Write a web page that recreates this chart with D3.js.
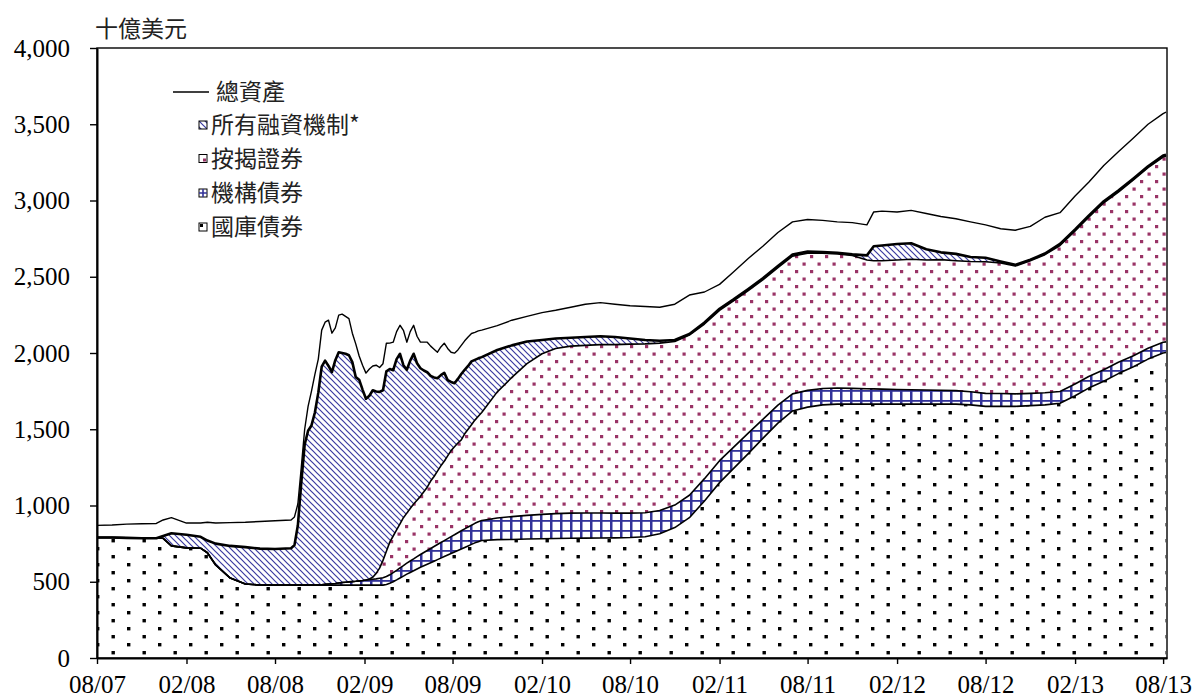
<!DOCTYPE html>
<html><head><meta charset="utf-8">
<script src="https://cdn.jsdelivr.net/npm/d3@7"></script>
<style>body{margin:0;background:#fff} svg{display:block}</style>
</head><body>
<svg id="c" width="1195" height="697"></svg>
<script>
// ---------------- data (billions of US$) ----------------
const dates = [
 "2007-08-01","2007-09-01","2007-10-01","2007-11-01","2007-12-01","2007-12-15","2008-01-01","2008-02-01","2008-03-01","2008-03-15","2008-04-01","2008-05-01","2008-06-01","2008-07-01","2008-08-01",
 "2008-09-03","2008-09-10","2008-09-17","2008-09-24","2008-10-01","2008-10-08","2008-10-15","2008-10-22","2008-10-29","2008-11-05","2008-11-12","2008-11-19","2008-11-26","2008-12-03","2008-12-10","2008-12-17","2008-12-24","2008-12-31",
 "2009-01-07","2009-01-14","2009-01-21","2009-01-28","2009-02-04","2009-02-11","2009-02-18","2009-02-25","2009-03-04","2009-03-11","2009-03-18","2009-03-25","2009-04-01","2009-04-08","2009-04-15","2009-04-22","2009-04-29","2009-05-06","2009-05-13","2009-05-20","2009-05-27","2009-06-03","2009-06-10","2009-06-17","2009-06-24","2009-07-01","2009-07-08","2009-07-15","2009-07-22","2009-07-29","2009-08-05","2009-08-12","2009-08-19","2009-08-26","2009-09-02","2009-09-09","2009-09-16","2009-09-23","2009-09-30",
 "2009-11-01","2009-12-01",
 "2010-01-01","2010-02-01","2010-03-01","2010-04-01","2010-05-01","2010-06-01","2010-07-01","2010-08-01","2010-09-01","2010-10-01","2010-11-01","2010-12-01",
 "2011-01-01","2011-02-01","2011-03-01","2011-04-01","2011-05-01","2011-06-01","2011-07-01","2011-08-01","2011-09-01","2011-10-01","2011-11-01","2011-12-01","2011-12-15",
 "2012-01-01","2012-02-01","2012-03-01","2012-04-01","2012-05-01","2012-06-01","2012-07-01","2012-08-01","2012-09-01","2012-10-01","2012-11-01","2012-12-01",
 "2013-01-01","2013-02-01","2013-03-01","2013-04-01","2013-05-01","2013-06-01","2013-07-01","2013-08-01","2013-08-07"
];
// 國庫債券 (Treasury securities)
const treasury = [
 790,790,788,785,785,785,735,722,720,690,610,524,485,478,478,
 478,478,478,478,478,478,478,478,478,478,478,478,478,478,478,478,478,478,
 478,478,478,478,478,478,478,478,478,478,482,490,500,512,525,537,550,561,572,584,595,605,615,625,635,645,655,665,675,685,695,705,715,725,735,745,755,763,770,
 776,777,
 780,782,784,785,786,787,788,790,795,815,855,920,
 1030,1150,1240,1340,1440,1540,1620,1645,1660,1665,1665,1665,1665,
 1665,1665,1665,1665,1665,1665,1660,1650,1650,1650,1655,1660,
 1670,1720,1770,1815,1865,1910,1960,2000,2003
];
// 機構債券 (Agency debt)
const agency = [
 0,0,0,0,0,0,0,0,0,0,0,0,0,0,0,
 0,0,0,0,0,0,0,0,0,2,5,7,9,11,14,17,19,21,
 23,25,28,30,33,35,38,41,45,48,52,56,60,63,66,69,72,75,78,81,84,87,90,93,96,99,102,105,108,111,113,116,119,122,124,126,128,130,132,
 142,150,
 155,160,163,165,165,164,162,160,157,152,148,147,
 146,144,140,135,125,118,112,110,107,105,103,101,100,
 98,96,94,92,90,88,86,85,84,82,80,79,
 78,77,76,75,74,72,71,70,70
];
// 按揭證券 (Mortgage-backed securities)
const mbs = [
 0,0,0,0,0,0,0,0,0,0,0,0,0,0,0,
 0,0,0,0,0,0,0,0,0,0,0,0,0,0,0,0,0,0,
 0,0,0,0,0,5,14,36,66,114,166,214,240,265,289,314,328,344,360,370,381,398,415,442,459,481,503,520,542,564,577,589,596,623,641,659,677,692,708,
 827,913,
 995,1053,1083,1095,1099,1104,1105,1108,1108,1098,1072,1051,
 1014,986,960,935,915,902,903,900,888,880,872,844,840,
 842,849,856,853,857,852,854,863,856,838,870,906,
 957,1003,1044,1095,1116,1153,1184,1215,1217
];
// 所有融資機制* (All liquidity facilities)
const lending = [
 0,0,0,0,0,15,83,86,75,80,140,211,242,239,237,
 242,262,392,672,922,1012,1047,1132,1262,1430,1467,1430,1387,1464,1513,1505,1498,1486,
 1439,1339,1319,1252,1189,1202,1226,1193,1156,1116,1180,1135,1087,1120,1115,1000,940,970,985,898,840,795,754,690,650,610,595,580,497,450,417,420,432,420,415,415,395,380,363,
 275,210,
 145,90,65,55,55,55,50,37,25,15,10,7,
 10,10,10,10,10,10,10,10,7,7,7,30,95,
 100,105,105,70,48,45,30,27,10,8,7,7,
 10,10,10,10,10,10,10,10,10
];
// 總資產 (Total assets)
const totalAssets = [
 870,872,878,880,882,905,920,885,885,890,885,888,890,895,900,
 905,925,1010,1250,1500,1650,1750,1860,1960,2150,2202,2215,2130,2165,2248,2255,2240,2225,
 2130,2060,1980,1920,1868,1895,1915,1920,1905,1930,2064,2065,2071,2140,2182,2149,2071,2140,2182,2110,2071,2071,2071,2045,2025,2005,2040,2064,2030,2005,1999,2020,2050,2080,2105,2128,2135,2145,2150,
 2180,2215,
 2240,2265,2280,2300,2320,2330,2320,2310,2305,2300,2320,2380,
 2400,2450,2530,2620,2700,2790,2860,2875,2870,2860,2855,2840,2925,
 2930,2925,2935,2915,2895,2880,2860,2840,2815,2805,2830,2890,
 2920,3030,3120,3230,3320,3410,3500,3570,3580
];
const yTicks = [0,500,1000,1500,2000,2500,3000,3500,4000];
const xTickDates = ["2007-08-01","2008-02-01","2008-08-01","2009-02-01","2009-08-01","2010-02-01","2010-08-01","2011-02-01","2011-08-01","2012-02-01","2012-08-01","2013-02-01","2013-08-01"];
const unitLabel = "十億美元";
const legendLabels = ["總資產","所有融資機制*","按揭證券","機構債券","國庫債券"];

// ---------------- drawing ----------------
const svg = d3.select("#c");
const parse = d3.timeParse("%Y-%m-%d");
const rows = dates.map((d,i)=>({date:parse(d), treasury:treasury[i], agency:agency[i], mbs:mbs[i], lending:lending[i], total:totalAssets[i]}));
const keys = ["treasury","agency","mbs","lending"];
const layers = d3.stack().keys(keys)(rows);

const x = d3.scaleTime().domain([parse("2007-08-01"), parse("2013-08-09")]).range([97,1167]);
const y = d3.scaleLinear().domain([0,4000]).range([658,48]);

const BLUE = "#333399", MAROON = "#993366";
const defs = svg.append("defs");
// treasury: sparse black dots
const pT = defs.append("pattern").attr("id","pat-treasury").attr("patternUnits","userSpaceOnUse")
  .attr("x",96).attr("y",643).attr("width",31).attr("height",16);
pT.append("rect").attr("width",31).attr("height",16).attr("fill","#fff");
pT.append("rect").attr("x",0).attr("y",0).attr("width",3.4).attr("height",3.4).attr("fill","#000");
pT.append("rect").attr("x",15.5).attr("y",8).attr("width",3.4).attr("height",3.4).attr("fill","#000");
// agency: blue grid
const pA = defs.append("pattern").attr("id","pat-agency").attr("patternUnits","userSpaceOnUse")
  .attr("width",10).attr("height",10);
pA.append("rect").attr("width",10).attr("height",10).attr("fill","#fff");
pA.append("rect").attr("x",0).attr("y",0).attr("width",2.5).attr("height",10).attr("fill",BLUE);
pA.append("rect").attr("x",0).attr("y",0).attr("width",10).attr("height",1.8).attr("fill",BLUE);
// mbs: maroon dots
const pM = defs.append("pattern").attr("id","pat-mbs").attr("patternUnits","userSpaceOnUse")
  .attr("width",15).attr("height",15);
pM.append("rect").attr("width",15).attr("height",15).attr("fill","#fff");
pM.append("rect").attr("x",0).attr("y",0).attr("width",3.2).attr("height",3.2).attr("fill",MAROON);
pM.append("rect").attr("x",7.5).attr("y",7.5).attr("width",3.2).attr("height",3.2).attr("fill",MAROON);
// lending: blue diagonal hatch
const pL = defs.append("pattern").attr("id","pat-lending").attr("patternUnits","userSpaceOnUse")
  .attr("width",6).attr("height",6);
pL.append("rect").attr("width",6).attr("height",6).attr("fill","#fff");
pL.append("path").attr("d","M-1,-1L7,7M-1,5L1,7M5,-1L7,1").attr("stroke","#3a3aa0").attr("stroke-width",1.2);

// areas
const area = d3.area().x(d=>x(d.data.date)).y0(d=>y(d[0])).y1(d=>y(d[1]));
svg.append("g").selectAll("path").data(layers).join("path")
  .attr("d",area).attr("fill",d=>`url(#pat-${d.key})`).attr("stroke","none");
// boundaries
const topLine = d3.line().x(d=>x(d.data.date)).y(d=>y(d[1]));
svg.append("g").selectAll("path").data(layers).join("path")
  .attr("d",topLine).attr("fill","none").attr("stroke","#000")
  .attr("stroke-width",d=>d.key==="lending"?2.6:1.6).attr("stroke-linejoin","round");
// total assets
const totalLine = d3.line().x(d=>x(d.date)).y(d=>y(d.total));
svg.append("path").datum(rows).attr("d",totalLine).attr("fill","none").attr("stroke","#000").attr("stroke-width",1.4).attr("stroke-linejoin","round");

// frame
svg.append("rect").attr("x",97).attr("y",48).attr("width",1070).attr("height",610)
  .attr("fill","none").attr("stroke","#000").attr("stroke-width",1.4);

const numFont = "'Liberation Serif','Times New Roman',serif";
// y axis
const yAxis = svg.append("g").attr("transform","translate(97,0)")
  .call(d3.axisLeft(y).tickValues(yTicks).tickFormat(d3.format(",")).tickSize(7).tickSizeOuter(0).tickPadding(20));
yAxis.select(".domain").attr("stroke-width",2);
yAxis.selectAll(".tick line").attr("stroke-width",1.4);
yAxis.selectAll("text").attr("font-family",numFont).attr("font-size",25).attr("fill","#000");
// x axis
const xAxis = svg.append("g").attr("transform","translate(0,658)")
  .call(d3.axisBottom(x).tickValues(xTickDates.map(parse)).tickFormat(d3.timeFormat("%m/%y")).tickSize(6).tickSizeOuter(0).tickPadding(11));
xAxis.select(".domain").attr("stroke-width",2);
xAxis.selectAll(".tick line").attr("stroke-width",1.4);
xAxis.selectAll("text").attr("font-family",numFont).attr("font-size",25).attr("fill","#000");

const cjk = "'Noto Sans CJK TC','Noto Sans CJK SC',sans-serif";
svg.append("text").attr("x",95).attr("y",37).text(unitLabel)
  .attr("font-family",cjk).attr("font-size",23).attr("fill","#222");

// legend
const lg = svg.append("g");
const rowY = [92,125,158.5,193,227];
lg.append("line").attr("x1",173).attr("x2",209).attr("y1",rowY[0]).attr("y2",rowY[0]).attr("stroke","#000").attr("stroke-width",1.4);
legendLabels.forEach((t,i)=>{
  lg.append("text").attr("x",i===0?216:211).attr("y",rowY[i]).attr("dy","0.36em").text(t)
    .attr("font-family",cjk).attr("font-size",23).attr("fill","#222");
});
const bx = 199;
// lending swatch
lg.append("rect").attr("x",bx).attr("y",rowY[1]-4).attr("width",8).attr("height",8).attr("fill","url(#pat-lending)").attr("stroke","#000").attr("stroke-width",1);
// mbs swatch
lg.append("rect").attr("x",bx).attr("y",rowY[2]-4).attr("width",8).attr("height",8).attr("fill","#fff").attr("stroke","#000").attr("stroke-width",1);
lg.append("rect").attr("x",bx+4).attr("y",rowY[2]).attr("width",3).attr("height",3).attr("fill",MAROON);
// agency swatch
lg.append("rect").attr("x",bx).attr("y",rowY[3]-4).attr("width",8).attr("height",8).attr("fill","#fff").attr("stroke","#000").attr("stroke-width",1);
lg.append("path").attr("d",`M${bx+4},${rowY[3]-4}V${rowY[3]+4}M${bx},${rowY[3]}H${bx+8}`).attr("stroke",BLUE).attr("stroke-width",1.6);
// treasury swatch
lg.append("rect").attr("x",bx).attr("y",rowY[4]-4).attr("width",8).attr("height",8).attr("fill","#fff").attr("stroke","#000").attr("stroke-width",1);
lg.append("rect").attr("x",bx+1).attr("y",rowY[4]-3).attr("width",3).attr("height",3).attr("fill","#000");
</script>
</body></html>
